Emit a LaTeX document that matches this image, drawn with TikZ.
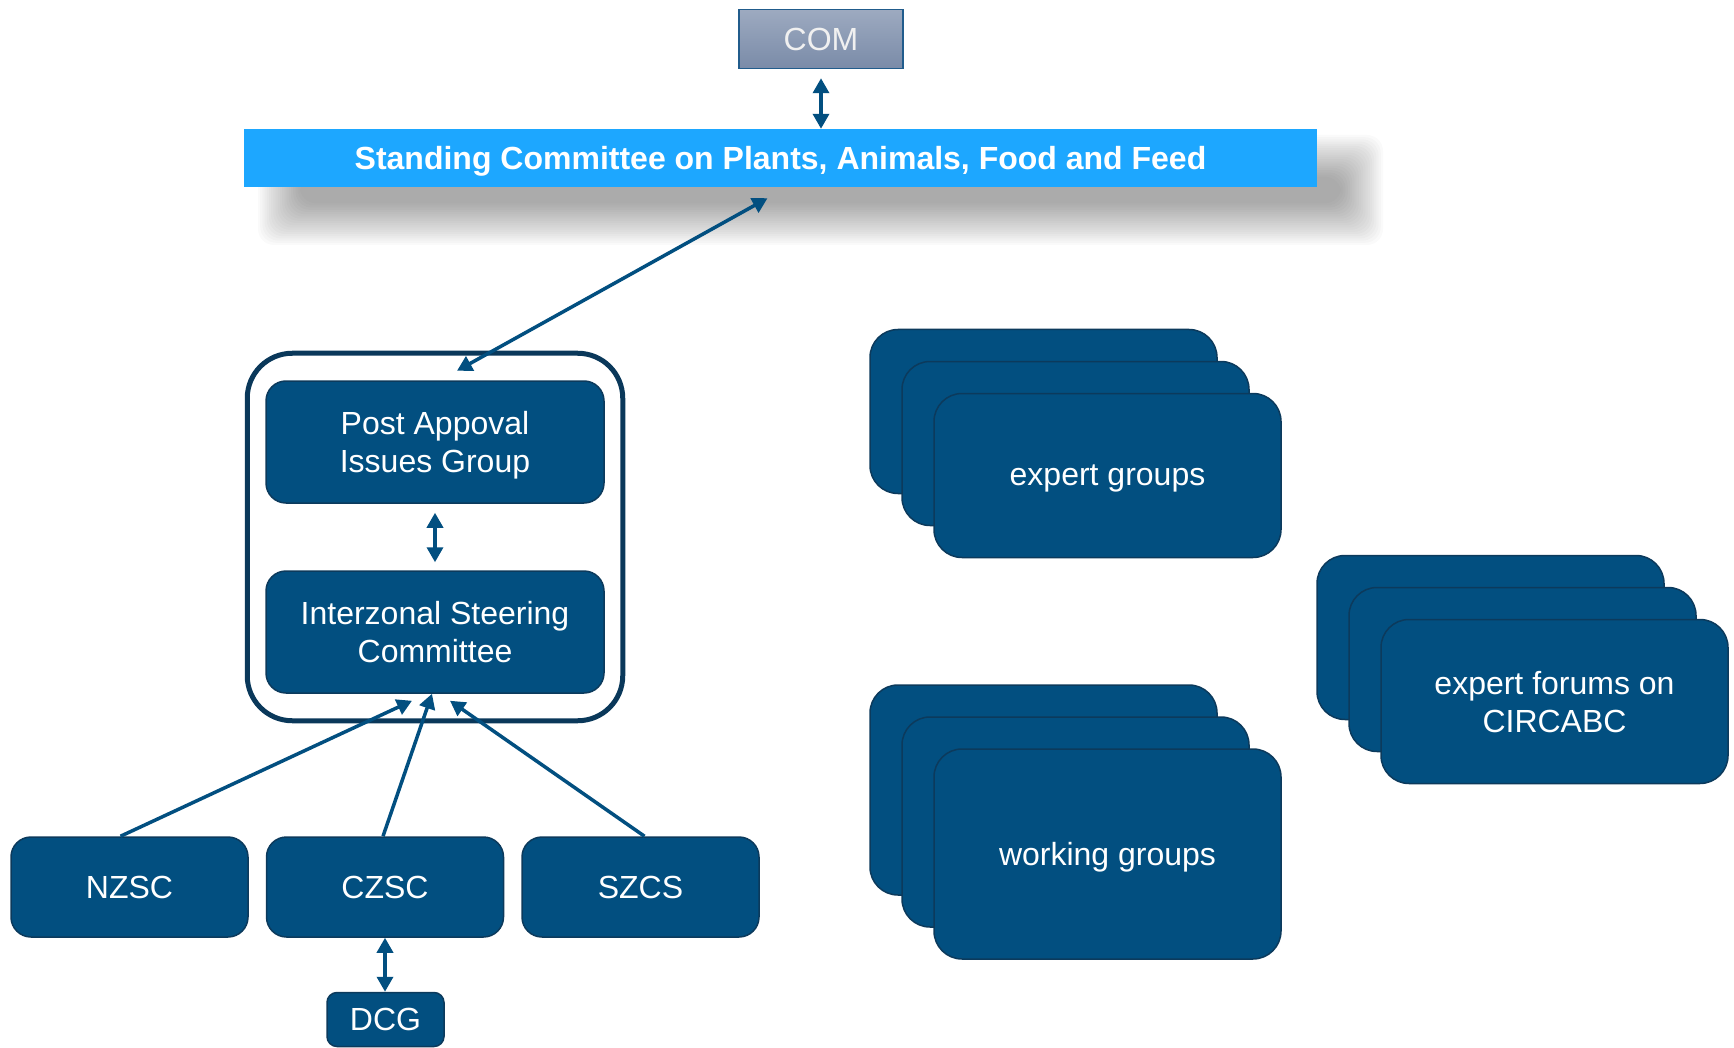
\documentclass[tikz,border=0pt]{standalone}
\usepackage{fontspec}
\setmainfont{Liberation Sans}
\usetikzlibrary{arrows.meta,fit}
\definecolor{boxblue}{RGB}{2,79,128}
\definecolor{boxedge}{RGB}{12,58,92}
\definecolor{panelblue}{RGB}{10,56,90}
\definecolor{barblue}{RGB}{29,167,255}
\definecolor{comtop}{RGB}{157,170,192}
\definecolor{combottom}{RGB}{122,139,168}
\definecolor{comedge}{RGB}{33,92,140}
\newcommand{\widthzone}{237pt}
\newcommand{\stepzone}{255.5pt}
\newcommand{\widthgroup}{338pt}
\newcommand{\widthcard}{347pt}
\newcommand{\shiftcard}{32pt}
\newcommand{\cards}[4]{%
    \node[card, minimum height=#3] (#1-back) at #2 {};
    \node[card, minimum height=#3] (#1-mid) at ([xshift=\shiftcard, yshift=-\shiftcard]#1-back.center) {};
    \node[card, minimum height=#3] (#1) at ([xshift=\shiftcard, yshift=-\shiftcard]#1-mid.center) {#4};
}
\tikzset{
    common/.style={draw=boxedge, line width=1.5pt, fill=boxblue, text=white, align=center,
        inner sep=0pt, text depth=0pt, font=\fontsize{32}{38}\selectfont},
    zone/.style={common, minimum width=\widthzone, minimum height=100pt, rounded corners=20pt},
    group/.style={common, minimum width=\widthgroup, minimum height=122pt, rounded corners=20pt},
    card/.style={common, minimum width=\widthcard, rounded corners=28pt},
    link/.style={draw=boxblue, line width=3.5pt, -{Triangle[length=15pt, width=16pt]}},
    twoway/.style={link, {Triangle[length=15pt, width=16pt]}-{Triangle[length=15pt, width=16pt]}}
}

\begin{document}
\begin{tikzpicture}[x=1pt, y=-1pt]
    \useasboundingbox (0,0) rectangle (1734,1048);

    \node[draw=comedge, line width=1.5pt, top color=comtop, bottom color=combottom, text=white!94!black,
        minimum width=164pt, minimum height=59pt, inner sep=0pt, text depth=0pt,
        font=\fontsize{32}{38}\selectfont] (com) at (821,39) {COM};

    % soft shadow under the committee bar
    \foreach \i in {0,...,19}
        \fill[black, opacity=0.02, rounded corners=16pt]
            (258+2.2*\i, 135+2.2*\i) rectangle (1383-2.2*\i, 245-2.2*\i);
    \node[fill=barblue, text=white, minimum width=1073pt, minimum height=58pt, inner sep=0pt, text depth=0pt,
        font=\bfseries\fontsize{32}{38}\selectfont] (sc) at (780.5,158)
        {Standing Committee on Plants, Animals, Food and Feed};

    \node[group] (paig) at (435,442) {Post Appoval\\Issues Group};
    \node[group] (isc) at (435,632) {Interzonal Steering\\Committee};
    \node[fit=(paig)(isc), draw=panelblue, line width=5pt, rounded corners=45pt,
        inner xsep=18pt, inner ysep=27pt] (panel) {};

    \node[zone] (nzsc) at (129.5,887) {NZSC};
    \path (nzsc)
        to ++(0:\stepzone) node[zone] (czsc) {CZSC}
        to ++(0:\stepzone) node[zone] (szcs) {SZCS};
    \node[common, minimum width=117pt, minimum height=54pt, rounded corners=10pt] (dcg) at (385.5,1019.5) {DCG};

    \cards{eg}{(1043.5,411.5)}{164pt}{expert groups}
    \cards{wg}{(1043.5,790)}{210pt}{working groups}
    \cards{ef}{(1490.5,637.5)}{164pt}{expert forums on\\CIRCABC}

    \draw[twoway] ([yshift=-9pt]com.south) -- (com.south |- sc.north);
    \draw[twoway] ([xshift=-13pt, yshift=-11pt]sc.south) -- ([xshift=22pt, yshift=-20pt]panel.north);
    \draw[twoway] ([yshift=-9pt]paig.south) -- ([yshift=8pt]isc.north);
    \draw[link] ([xshift=-9pt]nzsc.north) -- ([xshift=-23pt, yshift=-7pt]isc.south);
    \draw[link] ([xshift=-2pt]czsc.north) -- ([xshift=-3pt]isc.south);
    \draw[link] ([xshift=4pt]szcs.north) -- ([xshift=15pt, yshift=-7pt]isc.south);
    \draw[twoway] (czsc.south) -- (czsc.south |- dcg.north);
\end{tikzpicture}
\end{document}
